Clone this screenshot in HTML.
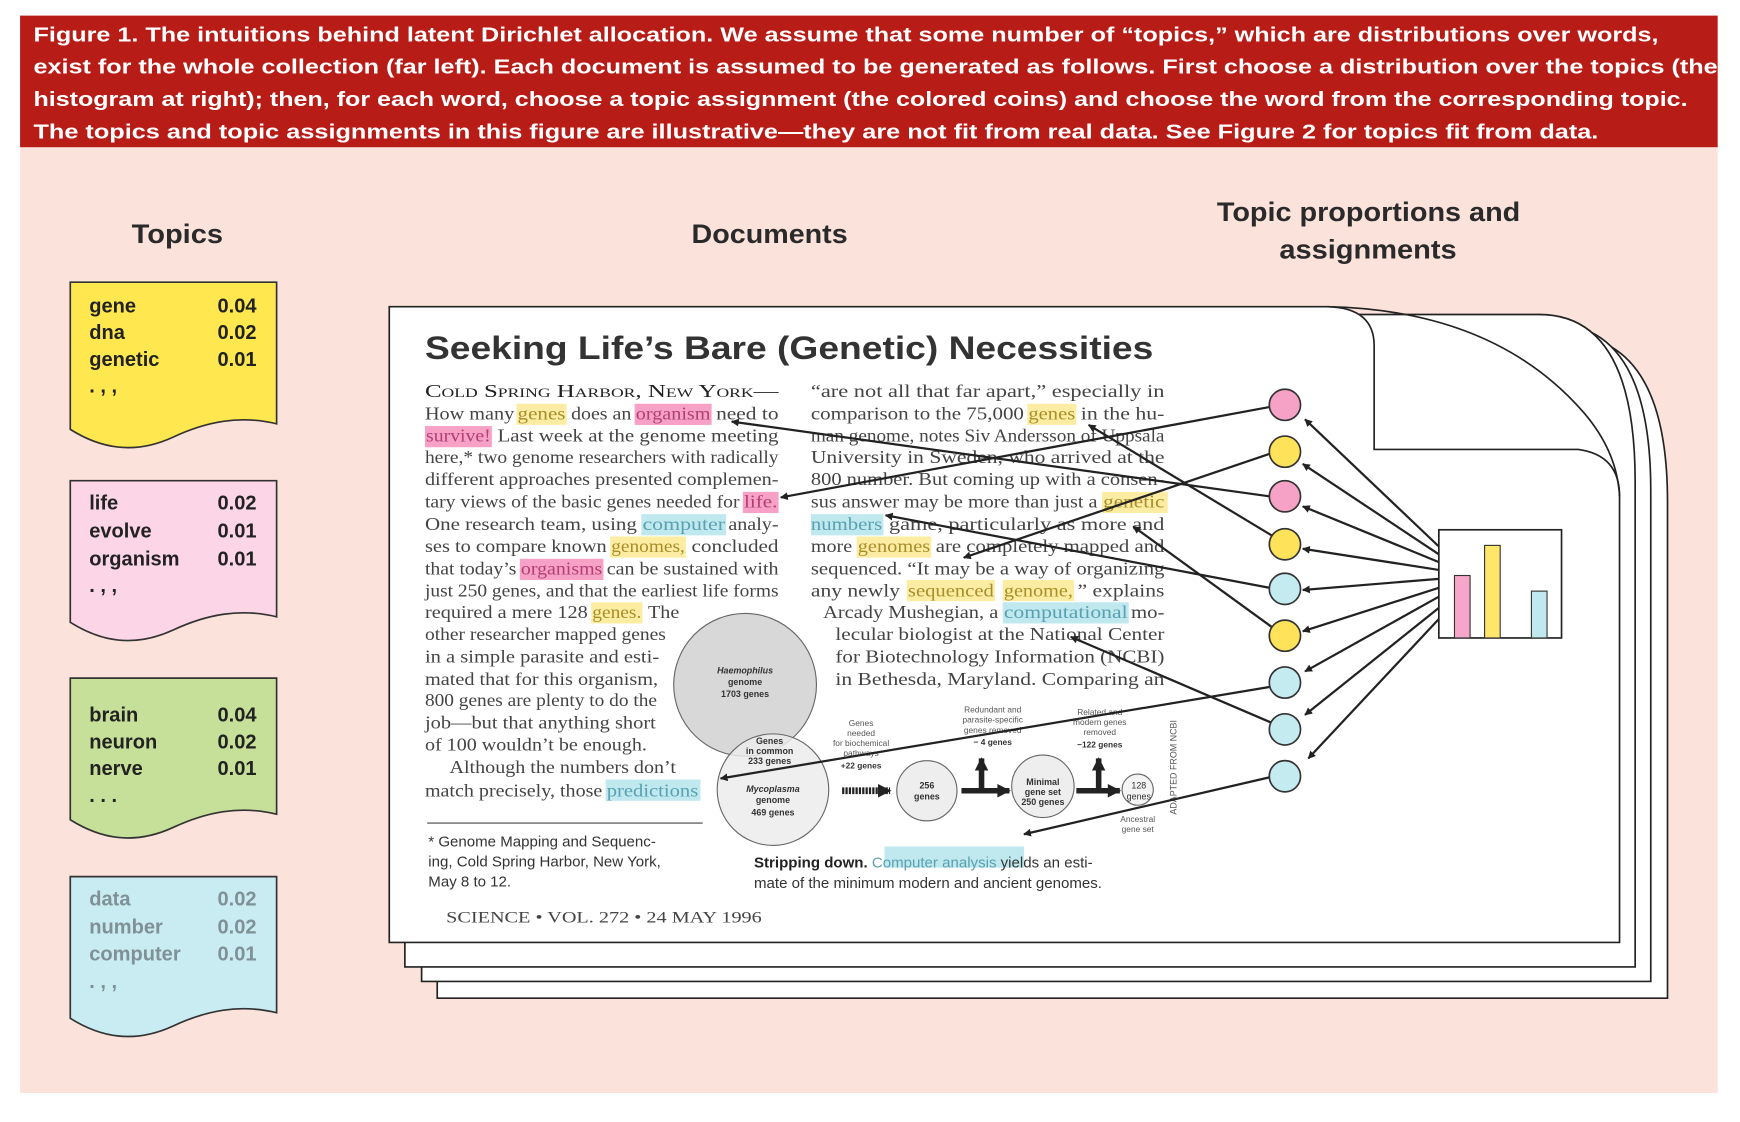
<!DOCTYPE html>
<html><head><meta charset="utf-8"><style>html,body{margin:0;padding:0;background:#fff}svg{display:block}</style></head><body>
<svg width="1740" height="1122" viewBox="0 0 1560 1006" preserveAspectRatio="none" xmlns="http://www.w3.org/2000/svg">
<defs>
<marker id="ah" viewBox="0 0 10 10" refX="9" refY="5" markerWidth="7" markerHeight="7" orient="auto" markerUnits="userSpaceOnUse"><path d="M0,0 L10,5 L0,10 z" fill="#222"/></marker>
<marker id="ah2" viewBox="0 0 10 10" refX="9" refY="5" markerWidth="14" markerHeight="12" orient="auto" markerUnits="userSpaceOnUse"><path d="M0,0 L10,5 L0,10 z" fill="#222"/></marker>
</defs>
<rect x="0" y="0" width="1560" height="1006" fill="#fff"/>
<rect x="18" y="132" width="1522" height="848" fill="#fbe3db"/>
<rect x="18" y="14" width="1522" height="118" fill="#b71c17"/>
<g font-family="Liberation Sans, sans-serif" font-weight="bold" font-size="18.5" fill="#fff" lengthAdjust="spacingAndGlyphs">
<text x="30" y="37" textLength="1457" lengthAdjust="spacingAndGlyphs">Figure 1. The intuitions behind latent Dirichlet allocation. We assume that some number of “topics,” which are distributions over words,</text>
<text x="30" y="66" textLength="1510" lengthAdjust="spacingAndGlyphs">exist for the whole collection (far left). Each document is assumed to be generated as follows. First choose a distribution over the topics (the</text>
<text x="30" y="95" textLength="1483" lengthAdjust="spacingAndGlyphs">histogram at right); then, for each word, choose a topic assignment (the colored coins) and choose the word from the corresponding topic.</text>
<text x="30" y="124" textLength="1403" lengthAdjust="spacingAndGlyphs">The topics and topic assignments in this figure are illustrative—they are not fit from real data. See Figure 2 for topics fit from data.</text>
</g>
<g font-family="Liberation Sans, sans-serif" font-weight="bold" font-size="24" fill="#2a2a2a">
<text x="118" y="218" textLength="82" lengthAdjust="spacingAndGlyphs">Topics</text>
<text x="620" y="218" textLength="140" lengthAdjust="spacingAndGlyphs">Documents</text>
<text x="1091" y="198" textLength="272" lengthAdjust="spacingAndGlyphs">Topic proportions and</text>
<text x="1147" y="232" textLength="159" lengthAdjust="spacingAndGlyphs">assignments</text>
</g>
<!-- topic boxes -->
<g stroke="#333" stroke-width="1.5">
<path d="M63,253 H248 V380 C215,372 185,378 155,392 C120,408 90,402 63,385 Z" fill="#ffe84f"/>
<path d="M63,431 H248 V553 C215,545 185,551 155,565 C120,581 90,575 63,558 Z" fill="#fcd5e6"/>
<path d="M63,608 H248 V730 C215,722 185,728 155,742 C120,758 90,752 63,735 Z" fill="#c6e099"/>
<path d="M63,786 H248 V908 C215,900 185,906 155,920 C120,936 90,930 63,913 Z" fill="#c8ecf1"/>
</g>
<g font-family="Liberation Sans, sans-serif" font-weight="bold" font-size="18" fill="#222">
<text x="80" y="280">gene</text><text x="195" y="280">0.04</text>
<text x="80" y="304">dna</text><text x="195" y="304">0.02</text>
<text x="80" y="328">genetic</text><text x="195" y="328">0.01</text>
<text x="80" y="352">. , ,</text>
<text x="80" y="457">life</text><text x="195" y="457">0.02</text>
<text x="80" y="482">evolve</text><text x="195" y="482">0.01</text>
<text x="80" y="507">organism</text><text x="195" y="507">0.01</text>
<text x="80" y="531">. , ,</text>
<text x="80" y="647">brain</text><text x="195" y="647">0.04</text>
<text x="80" y="671">neuron</text><text x="195" y="671">0.02</text>
<text x="80" y="695">nerve</text><text x="195" y="695">0.01</text>
<text x="80" y="719">. . .</text>
<g fill="#7f9096">
<text x="80" y="812">data</text><text x="195" y="812">0.02</text>
<text x="80" y="837">number</text><text x="195" y="837">0.02</text>
<text x="80" y="861">computer</text><text x="195" y="861">0.01</text>
<text x="80" y="886">. , ,</text>
</g>
</g>
<!-- back pages -->
<g fill="#fff" stroke="#222" stroke-width="1.5">
<path d="M392,300 H1400 Q1495,300 1495,450 V895 H392 Z"/>
<path d="M378,290 H1390 Q1480,290 1480,440 V880 H378 Z"/>
<path d="M363,282 H1380 Q1466,282 1466,432 V867 H363 Z"/>
<path d="M349,275 H1190 Q1232,276 1232,310 V403 H1415 Q1452,408 1452,445 V845 H349 Z"/>
</g>
<path d="M1190,275 Q1340,278 1420,370 Q1450,405 1452,445" fill="none" stroke="#222" stroke-width="1.5"/>
<!-- highlights -->
<g>
<g fill="#fde98d" opacity="0.8">
<rect x="463" y="362" width="45" height="19"/><rect x="547" y="481" width="68" height="19"/><rect x="530" y="540" width="46" height="19"/>
<rect x="921" y="362" width="44" height="19"/><rect x="988" y="441" width="59" height="19"/><rect x="768" y="481" width="67" height="19"/>
<rect x="813" y="520" width="79" height="19"/><rect x="899" y="520" width="64" height="19"/>
</g>
<g fill="#f7a1c7"><rect x="569" y="362" width="69" height="19"/><rect x="381" y="382" width="60" height="19"/><rect x="666" y="441" width="32" height="19"/><rect x="466" y="501" width="75" height="19"/></g>
<g fill="#bfe9ee"><rect x="575" y="461" width="76" height="19"/><rect x="543" y="699" width="85" height="19"/><rect x="727" y="461" width="65" height="19"/><rect x="899" y="540" width="113" height="19"/><rect x="793" y="759" width="125" height="19"/></g>
</g>
<text x="381" y="322" font-family="Liberation Sans, sans-serif" font-weight="bold" font-size="29" fill="#333" textLength="653" lengthAdjust="spacingAndGlyphs">Seeking Life’s Bare (Genetic) Necessities</text>
<g font-family="Liberation Serif, serif" font-size="16.5" fill="#444">
<text x="381" y="356" textLength="317" lengthAdjust="spacingAndGlyphs" font-variant="small-caps" fill="#222">Cold Spring Harbor, New York—</text>
<text x="381" y="376" textLength="80" lengthAdjust="spacingAndGlyphs">How many</text><text x="464" y="376" textLength="43" lengthAdjust="spacingAndGlyphs" fill="#a88e2a">genes</text><text x="512" y="376" textLength="54" lengthAdjust="spacingAndGlyphs">does an</text><text x="570" y="376" textLength="67" lengthAdjust="spacingAndGlyphs" fill="#b23f72">organism</text><text x="642" y="376" textLength="56" lengthAdjust="spacingAndGlyphs">need to</text>
<text x="382" y="396" textLength="58" lengthAdjust="spacingAndGlyphs" fill="#b23f72">survive!</text><text x="446" y="396" textLength="252" lengthAdjust="spacingAndGlyphs">Last week at the genome meeting</text>
<text x="381" y="415" textLength="317" lengthAdjust="spacingAndGlyphs">here,* two genome researchers with radically</text>
<text x="381" y="435" textLength="317" lengthAdjust="spacingAndGlyphs">different approaches presented complemen-</text>
<text x="381" y="455" textLength="282" lengthAdjust="spacingAndGlyphs">tary views of the basic genes needed for</text><text x="667" y="455" textLength="30" lengthAdjust="spacingAndGlyphs" fill="#b23f72">life.</text>
<text x="381" y="475" textLength="190" lengthAdjust="spacingAndGlyphs">One research team, using</text><text x="576" y="475" textLength="74" lengthAdjust="spacingAndGlyphs" fill="#5aa0b0">computer</text><text x="653" y="475" textLength="45" lengthAdjust="spacingAndGlyphs">analy-</text>
<text x="381" y="495" textLength="163" lengthAdjust="spacingAndGlyphs">ses to compare known</text><text x="548" y="495" textLength="66" lengthAdjust="spacingAndGlyphs" fill="#a88e2a">genomes,</text><text x="620" y="495" textLength="78" lengthAdjust="spacingAndGlyphs">concluded</text>
<text x="381" y="515" textLength="82" lengthAdjust="spacingAndGlyphs">that today’s</text><text x="467" y="515" textLength="73" lengthAdjust="spacingAndGlyphs" fill="#b23f72">organisms</text><text x="544" y="515" textLength="154" lengthAdjust="spacingAndGlyphs">can be sustained with</text>
<text x="381" y="535" textLength="317" lengthAdjust="spacingAndGlyphs">just 250 genes, and that the earliest life forms</text>
<text x="381" y="554" textLength="146" lengthAdjust="spacingAndGlyphs">required a mere 128</text><text x="531" y="554" textLength="44" lengthAdjust="spacingAndGlyphs" fill="#a88e2a">genes.</text><text x="581" y="554" textLength="28" lengthAdjust="spacingAndGlyphs">The</text>
<text x="381" y="574" textLength="216" lengthAdjust="spacingAndGlyphs">other researcher mapped genes</text>
<text x="381" y="594" textLength="210" lengthAdjust="spacingAndGlyphs">in a simple parasite and esti-</text>
<text x="381" y="614" textLength="209" lengthAdjust="spacingAndGlyphs">mated that for this organism,</text>
<text x="381" y="633" textLength="208" lengthAdjust="spacingAndGlyphs">800 genes are plenty to do the</text>
<text x="381" y="653" textLength="207" lengthAdjust="spacingAndGlyphs">job—but that anything short</text>
<text x="381" y="673" textLength="199" lengthAdjust="spacingAndGlyphs">of 100 wouldn’t be enough.</text>
<text x="403" y="693" textLength="203" lengthAdjust="spacingAndGlyphs">Although the numbers don’t</text>
<text x="381" y="714" textLength="159" lengthAdjust="spacingAndGlyphs">match precisely, those</text><text x="544" y="714" textLength="82" lengthAdjust="spacingAndGlyphs" fill="#5aa0b0">predictions</text>

<text x="727" y="356" textLength="317" lengthAdjust="spacingAndGlyphs">“are not all that far apart,” especially in</text>
<text x="727" y="376" textLength="191" lengthAdjust="spacingAndGlyphs">comparison to the 75,000</text><text x="922" y="376" textLength="42" lengthAdjust="spacingAndGlyphs" fill="#a88e2a">genes</text><text x="969" y="376" textLength="75" lengthAdjust="spacingAndGlyphs">in the hu-</text>
<text x="727" y="396" textLength="317" lengthAdjust="spacingAndGlyphs">man genome, notes Siv Andersson of Uppsala</text>
<text x="727" y="415" textLength="317" lengthAdjust="spacingAndGlyphs">University in Sweden, who arrived at the</text>
<text x="727" y="435" textLength="317" lengthAdjust="spacingAndGlyphs">800 number. But coming up with a consen-</text>
<text x="727" y="455" textLength="257" lengthAdjust="spacingAndGlyphs">sus answer may be more than just a</text><text x="989" y="455" textLength="55" lengthAdjust="spacingAndGlyphs" fill="#a88e2a">genetic</text>
<text x="727" y="475" textLength="64" lengthAdjust="spacingAndGlyphs" fill="#5aa0b0">numbers</text><text x="797" y="475" textLength="247" lengthAdjust="spacingAndGlyphs">game, particularly as more and</text>
<text x="727" y="495" textLength="37" lengthAdjust="spacingAndGlyphs">more</text><text x="769" y="495" textLength="65" lengthAdjust="spacingAndGlyphs" fill="#a88e2a">genomes</text><text x="839" y="495" textLength="205" lengthAdjust="spacingAndGlyphs">are completely mapped and</text>
<text x="727" y="515" textLength="317" lengthAdjust="spacingAndGlyphs">sequenced. “It may be a way of organizing</text>
<text x="727" y="535" textLength="80" lengthAdjust="spacingAndGlyphs">any newly</text><text x="814" y="535" textLength="77" lengthAdjust="spacingAndGlyphs" fill="#a88e2a">sequenced</text><text x="900" y="535" textLength="62" lengthAdjust="spacingAndGlyphs" fill="#a88e2a">genome,</text><text x="966" y="535" textLength="78" lengthAdjust="spacingAndGlyphs">” explains</text>
<text x="738" y="554" textLength="157" lengthAdjust="spacingAndGlyphs">Arcady Mushegian, a</text><text x="900" y="554" textLength="111" lengthAdjust="spacingAndGlyphs" fill="#5aa0b0">computational</text><text x="1014" y="554" textLength="30" lengthAdjust="spacingAndGlyphs">mo-</text>
<text x="749" y="574" textLength="295" lengthAdjust="spacingAndGlyphs">lecular biologist at the National Center</text>
<text x="749" y="594" textLength="295" lengthAdjust="spacingAndGlyphs">for Biotechnology Information (NCBI)</text>
<text x="749" y="614" textLength="295" lengthAdjust="spacingAndGlyphs">in Bethesda, Maryland. Comparing an</text>
<text x="400" y="827" textLength="283" lengthAdjust="spacingAndGlyphs" font-size="14.5">SCIENCE • VOL. 272 • 24 MAY 1996</text>
</g>
<!-- figure -->
<g stroke="#666" stroke-width="1" fill="#e2e2e2">
<circle cx="668" cy="614" r="64" fill="#d8d8d8"/>
<circle cx="693" cy="708" r="50" fill="#ececec" fill-opacity="0.85"/>
<circle cx="831" cy="709" r="27" fill="#eeeeee"/>
<circle cx="935" cy="705" r="28" fill="#eeeeee"/>
<circle cx="1020" cy="708" r="14" fill="#f4f4f4"/>
</g>
<g font-family="Liberation Sans, sans-serif" font-weight="bold" font-size="8" fill="#333" text-anchor="middle">
<text x="668" y="604" font-style="italic">Haemophilus</text><text x="668" y="614">genome</text><text x="668" y="625">1703 genes</text>
<text x="690" y="667">Genes</text><text x="690" y="676">in common</text><text x="690" y="685">233 genes</text>
<text x="693" y="710" font-style="italic">Mycoplasma</text><text x="693" y="720">genome</text><text x="693" y="731">469 genes</text>
<text x="831" y="707">256</text><text x="831" y="717">genes</text>
<text x="935" y="704">Minimal</text><text x="935" y="713">gene set</text><text x="935" y="722">250 genes</text>
<text x="1021" y="707" font-weight="normal">128</text><text x="1021" y="717" font-weight="normal">genes</text>
<g font-weight="normal" font-size="7.5" fill="#555">
<text x="772" y="651">Genes</text><text x="772" y="660">needed</text><text x="772" y="669">for biochemical</text><text x="772" y="678">pathways</text><text x="772" y="689" font-weight="bold" fill="#333">+22 genes</text>
<text x="890" y="639">Redundant and</text><text x="890" y="648">parasite-specific</text><text x="890" y="657">genes removed</text><text x="890" y="668" font-weight="bold" fill="#333">− 4 genes</text>
<text x="986" y="641">Related and</text><text x="986" y="650">modern genes</text><text x="986" y="659">removed</text><text x="986" y="670" font-weight="bold" fill="#333">−122 genes</text>
<text x="1020" y="737">Ancestral</text><text x="1020" y="746">gene set</text>
</g>
<text x="0" y="0" font-weight="normal" font-size="8" fill="#555" transform="translate(1055,688) rotate(-90)">ADAPTED FROM NCBI</text>
</g>
<g stroke="#222" fill="none">
<line x1="755" y1="709" x2="798" y2="709" stroke-width="6" stroke-dasharray="2,1" marker-end="url(#ah2)"/>
<path d="M862,709 H880 V680" stroke-width="5" marker-end="url(#ah2)"/>
<path d="M880,709 H905" stroke-width="5" marker-end="url(#ah2)"/>
<path d="M965,709 H985 V680" stroke-width="5" marker-end="url(#ah2)"/>
<path d="M985,709 H1004" stroke-width="5" marker-end="url(#ah2)"/>
</g>
<line x1="383" y1="738" x2="630" y2="738" stroke="#444" stroke-width="1"/>
<g font-family="Liberation Sans, sans-serif" font-size="13.5" fill="#333">
<text x="384" y="759">* Genome Mapping and Sequenc-</text>
<text x="384" y="777">ing, Cold Spring Harbor, New York,</text>
<text x="384" y="795">May 8 to 12.</text>
<text x="676" y="778"><tspan font-weight="bold" fill="#222">Stripping down.</tspan> <tspan fill="#5aa0b0">Computer analysis</tspan> yields an esti-</text>
<text x="676" y="796">mate of the minimum modern and ancient genomes.</text>
</g>
<!-- histogram -->
<rect x="1290" y="475" width="110" height="97" fill="#fff" stroke="#222" stroke-width="1.5"/>
<g stroke="#333" stroke-width="1">
<rect x="1304" y="516" width="14" height="56" fill="#f6a6c8"/>
<rect x="1331" y="489" width="14" height="83" fill="#fde66a"/>
<rect x="1373" y="530" width="14" height="42" fill="#bfe9ee"/>
</g>
<!-- arrows histogram -> coins -->
<g stroke="#222" stroke-width="2" marker-end="url(#ah)">
<line x1="1290" y1="490" x2="1170" y2="376"/>
<line x1="1290" y1="497" x2="1168" y2="416"/>
<line x1="1290" y1="504" x2="1168" y2="454"/>
<line x1="1290" y1="511" x2="1168" y2="492"/>
<line x1="1290" y1="519" x2="1168" y2="529"/>
<line x1="1290" y1="527" x2="1168" y2="566"/>
<line x1="1290" y1="535" x2="1170" y2="602"/>
<line x1="1290" y1="545" x2="1170" y2="641"/>
<line x1="1290" y1="555" x2="1173" y2="680"/>
</g>
<!-- arrows coins -> words -->
<g stroke="#222" stroke-width="2" marker-end="url(#ah)">
<line x1="1138" y1="445" x2="656" y2="378"/>
<line x1="1138" y1="365" x2="700" y2="446"/>
<line x1="1138" y1="407" x2="864" y2="500"/>
<line x1="1140" y1="480" x2="976" y2="381"/>
<line x1="1138" y1="527" x2="794" y2="462"/>
<line x1="1140" y1="562" x2="1016" y2="472"/>
<line x1="1138" y1="616" x2="646" y2="698"/>
<line x1="1140" y1="648" x2="960" y2="571"/>
<line x1="1138" y1="697" x2="918" y2="748"/>
</g>
<!-- coins -->
<g stroke="#333" stroke-width="1.5">
<circle cx="1152" cy="363" r="14" fill="#f5a2c6"/>
<circle cx="1152" cy="405" r="14" fill="#fde25a"/>
<circle cx="1152" cy="445" r="14" fill="#f5a2c6"/>
<circle cx="1152" cy="488" r="14" fill="#fde25a"/>
<circle cx="1152" cy="528" r="14" fill="#c4ebf0"/>
<circle cx="1152" cy="570" r="14" fill="#fde25a"/>
<circle cx="1152" cy="612" r="14" fill="#c4ebf0"/>
<circle cx="1152" cy="654" r="14" fill="#c4ebf0"/>
<circle cx="1152" cy="696" r="14" fill="#c4ebf0"/>
</g>
</svg>
</body></html>
